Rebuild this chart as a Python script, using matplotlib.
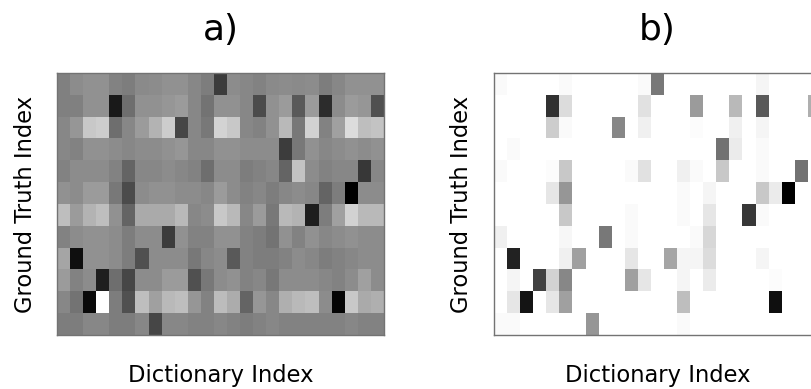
import matplotlib as mpl
mpl.use("Agg")
import matplotlib.pyplot as plt
import numpy as np

# brightness of each cell in the dense (a) map, 0 = black, 255 = white
dense_map = [
    [128, 140, 145, 145, 130, 125, 138, 140, 145, 145, 135, 125, 60, 140, 135, 130, 138, 140, 138, 140, 125, 135, 145, 145, 145],
    [128, 128, 145, 145, 25, 110, 145, 145, 150, 155, 135, 115, 145, 145, 135, 75, 145, 155, 90, 155, 45, 140, 155, 150, 80],
    [135, 150, 200, 205, 110, 135, 155, 180, 205, 70, 135, 120, 212, 200, 135, 130, 145, 185, 120, 210, 130, 160, 220, 190, 195],
    [135, 130, 145, 145, 140, 135, 140, 140, 145, 150, 135, 135, 145, 145, 140, 140, 140, 60, 120, 145, 135, 140, 145, 140, 145],
    [130, 140, 140, 140, 130, 100, 135, 135, 140, 135, 130, 110, 140, 140, 125, 130, 135, 100, 195, 140, 130, 135, 135, 55, 135],
    [145, 140, 155, 155, 120, 75, 140, 145, 145, 140, 140, 135, 155, 140, 130, 135, 125, 135, 140, 135, 100, 125, 0, 140, 140],
    [190, 155, 180, 190, 145, 100, 170, 170, 170, 185, 135, 140, 200, 185, 135, 155, 120, 185, 180, 30, 125, 160, 210, 185, 185],
    [130, 140, 145, 145, 140, 125, 140, 140, 60, 145, 130, 130, 145, 145, 130, 125, 115, 145, 130, 145, 135, 140, 145, 140, 140],
    [165, 15, 145, 145, 140, 125, 80, 140, 140, 140, 120, 135, 140, 90, 130, 125, 125, 130, 140, 135, 125, 130, 135, 140, 140],
    [155, 130, 140, 30, 110, 70, 140, 140, 155, 155, 80, 120, 140, 145, 130, 135, 120, 140, 140, 140, 135, 130, 140, 160, 140],
    [135, 115, 10, 255, 125, 80, 190, 160, 185, 190, 150, 130, 188, 172, 100, 150, 135, 175, 185, 190, 140, 5, 200, 170, 175],
    [125, 125, 135, 135, 125, 125, 135, 70, 135, 135, 130, 130, 135, 130, 125, 130, 135, 130, 130, 130, 130, 130, 135, 130, 130],
]

# weight of each cell in the sparse (b) map, 0 = white, 255 = black
sparse_map = [
    [5, 0, 0, 0, 0, 5, 0, 0, 0, 0, 0, 5, 135, 0, 0, 0, 0, 0, 0, 0, 10, 0, 0, 0, 0],
    [0, 0, 0, 0, 205, 35, 0, 0, 0, 0, 0, 30, 0, 0, 0, 100, 0, 0, 70, 0, 165, 0, 0, 0, 80],
    [0, 0, 0, 0, 50, 5, 0, 0, 0, 120, 0, 15, 0, 0, 0, 3, 0, 0, 15, 0, 10, 0, 0, 0, 0],
    [0, 5, 0, 0, 0, 0, 0, 0, 0, 0, 0, 0, 0, 0, 0, 0, 0, 140, 20, 0, 5, 0, 0, 0, 0],
    [5, 0, 0, 0, 3, 55, 0, 0, 0, 0, 5, 30, 0, 0, 15, 5, 0, 55, 0, 0, 5, 0, 0, 140, 0],
    [0, 0, 0, 0, 25, 105, 0, 0, 0, 0, 0, 0, 0, 0, 5, 0, 10, 0, 0, 0, 55, 20, 255, 0, 0],
    [0, 0, 0, 0, 0, 55, 0, 0, 0, 0, 5, 0, 0, 0, 5, 0, 25, 0, 0, 200, 5, 0, 0, 0, 0],
    [15, 0, 0, 0, 0, 8, 0, 0, 135, 0, 5, 0, 0, 0, 0, 5, 40, 0, 0, 0, 0, 0, 0, 0, 0],
    [0, 220, 0, 0, 0, 15, 95, 0, 0, 0, 25, 0, 0, 90, 10, 10, 35, 0, 0, 0, 10, 0, 0, 0, 0],
    [0, 10, 0, 190, 45, 120, 0, 0, 0, 0, 95, 25, 0, 0, 10, 0, 20, 0, 0, 0, 0, 3, 0, 0, 0],
    [0, 25, 235, 0, 25, 95, 0, 0, 0, 0, 0, 0, 0, 0, 65, 0, 0, 0, 0, 0, 0, 240, 0, 0, 0],
    [5, 5, 0, 0, 0, 0, 0, 105, 0, 0, 0, 0, 0, 0, 5, 0, 0, 0, 0, 0, 0, 0, 0, 0, 0],
]

titles = ["a)", "b)"]
xlabel = "Dictionary Index"
ylabel = "Ground Truth Index"

fig = plt.figure(figsize=(8.11, 3.89), dpi=100)

# second panel runs past the right edge of the canvas
ax_a = fig.add_axes([0.0707, 0.1388, 0.4032, 0.6735])
ax_b = fig.add_axes([0.6091, 0.1388, 0.4032, 0.6735])

ax_a.imshow(np.array(dense_map), cmap="gray", vmin=0, vmax=255,
            interpolation="nearest", aspect="auto")
ax_b.imshow(np.array(sparse_map), cmap="gray_r", vmin=0, vmax=255,
            interpolation="nearest", aspect="auto")

for ax, t in zip([ax_a, ax_b], titles):
    ax.set_xticks([])
    ax.set_yticks([])
    ax.set_title(t, fontsize=26, pad=24)
    ax.set_xlabel(xlabel, fontsize=16.3, labelpad=21)
    ax.set_ylabel(ylabel, fontsize=16.3, labelpad=15)
    for s in ax.spines.values():
        s.set_color("0.45")
        s.set_linewidth(1.0)

fig.savefig("out.png", dpi=100)
